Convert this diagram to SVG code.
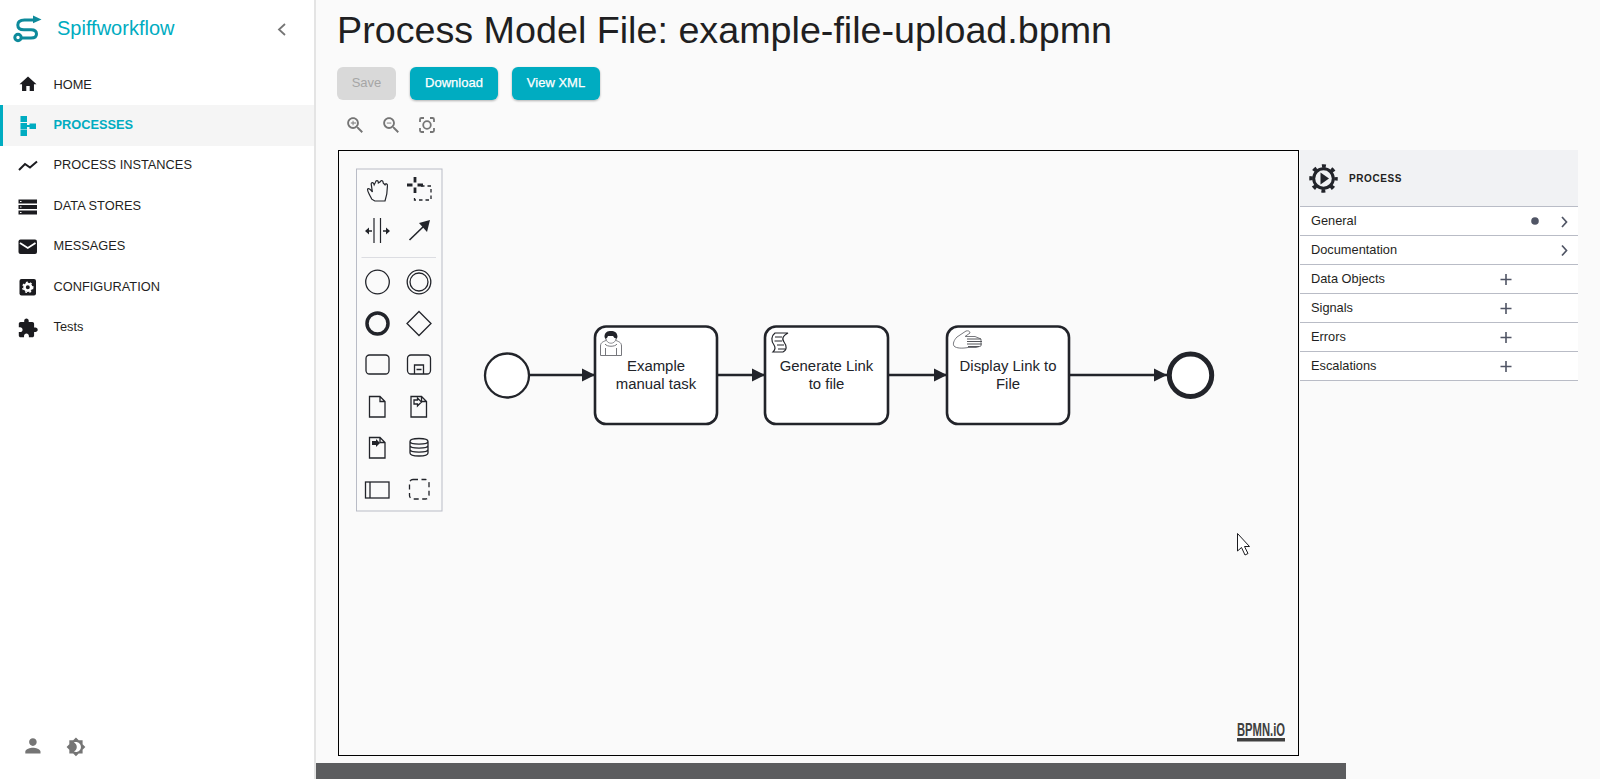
<svg xmlns="http://www.w3.org/2000/svg" width="1600" height="779" viewBox="0 0 1600 779">
<style>
text{font-family:"Liberation Sans",Arial,sans-serif;fill:#1f1f22}
.m{font-size:12.8px}
.r{font-size:12.8px}
.t{font-size:14.9px;text-anchor:middle;fill:#22242a}
.task{fill:#fff;stroke:#22242a;stroke-width:2.6}
.flow{fill:none;stroke:#22242a;stroke-width:2.6}
.ln{stroke:#b9bcc6;stroke-width:1.2}
.pal{fill:none;stroke:#22242a;stroke-width:1.3}
.btn{fill:#00acc1}
.bt{font-size:13px;fill:#fff;text-anchor:middle;stroke:#fff;stroke-width:.25}
.ic{fill:#1b1b1f}
.g{fill:#757575}
.pl{stroke:#505565;stroke-width:1.6;fill:none}
.chev{fill:none;stroke:#505565;stroke-width:1.7}
</style>
<defs>
<marker id="a" markerUnits="userSpaceOnUse" markerWidth="14" markerHeight="14" refX="13" refY="7" orient="auto"><path d="M0 .5L13 7L0 13.500z" fill="#22242a"/></marker>
<filter id="s" x="-10%" y="-10%" width="120%" height="130%"><feDropShadow dx="0" dy="1" stdDeviation="1.2" flood-color="#000" flood-opacity=".3"/></filter>
</defs>
<rect width="1600" height="779" fill="#fafafa"/>

<g id="sidebar">
<rect width="314" height="779" fill="#fff"/>
<rect x="314" width="2" height="779" fill="#e4e4e4"/>
<g id="logo" fill="none" stroke="#0d8a9b" stroke-width="3">
<path d="M35 20H24.500C20 20 17.800 22 17.800 25C17.800 28 20 29.800 24 29.800H31C34.500 29.800 36.500 31.500 36.500 34C36.500 36.800 34.500 38 31 38H21"/>
<circle cx="18" cy="37.500" r="3.200"/>
<path d="M33 15.500L41.500 19.500L33 23.300z" fill="#0d8a9b" stroke="none"/>
</g>
<text x="57" y="35" font-size="20" style="fill:#00acc1">Spiffworkflow</text>
<path d="M285 24L279 29.500L285 35" fill="none" stroke="#757575" stroke-width="1.800"/>

<rect y="105" width="314" height="41" fill="#f5f5f5"/>
<rect y="105" width="3" height="41" fill="#00acc1"/>
<path class="ic" transform="translate(17.800 74) scale(.85)" d="M10 20v-6h4v6h5v-8h3L12 3 2 12h3v8z"/>
<text class="m" x="53.500" y="88.500">HOME</text>
<g fill="#00acc1"><rect x="20.500" y="116" width="6.500" height="6"/><rect x="20.500" y="123" width="6.500" height="6.500"/><rect x="20.500" y="130" width="6.500" height="6"/><rect x="29.500" y="123.500" width="6.500" height="5.500"/><rect x="26" y="125" width="4" height="2"/></g>
<text class="m" x="53.500" y="128.500" font-weight="700" style="fill:#00acc1">PROCESSES</text>
<polyline points="19,170 25,164 30,167.500 37,161.500" fill="none" stroke="#1b1b1f" stroke-width="2"/>
<text class="m" x="53.500" y="168.500">PROCESS INSTANCES</text>
<g class="ic"><rect x="18.500" y="199.500" width="18.500" height="4"/><rect x="18.500" y="205" width="18.500" height="4"/><rect x="18.500" y="210.500" width="18.500" height="4"/></g>
<g fill="#fff"><rect x="20" y="201" width="1.500" height="1"/><rect x="20" y="206.500" width="1.500" height="1"/><rect x="20" y="212" width="1.500" height="1"/></g>
<text class="m" x="53.500" y="209.500">DATA STORES</text>
<rect class="ic" x="18.500" y="239.500" width="18.500" height="14.500" rx="2"/>
<path d="M20 243L27.800 248L35.500 243" fill="none" stroke="#fff" stroke-width="1.800"/>
<text class="m" x="53.500" y="249.500">MESSAGES</text>
<rect class="ic" x="19.500" y="279" width="16.500" height="16.500" rx="2"/>
<circle cx="27.800" cy="287.300" r="3.300" fill="none" stroke="#fff" stroke-width="2.600"/>
<circle cx="27.800" cy="287.300" r="5" fill="none" stroke="#fff" stroke-width="1.400" stroke-dasharray="2 2.200"/>
<text class="m" x="53.500" y="290.500">CONFIGURATION</text>
<path class="ic" transform="translate(17 317.500) scale(.9)" d="M20.500 11H19V7c0-1.100-.9-2-2-2h-4V3.500C13 2.120 11.880 1 10.500 1S8 2.120 8 3.500V5H4c-1.100 0-1.990.9-1.990 2v3.800H3.500c1.490 0 2.700 1.210 2.700 2.700s-1.210 2.700-2.700 2.700H2V20c0 1.100.9 2 2 2h3.800v-1.500c0-1.490 1.210-2.700 2.700-2.700 1.490 0 2.700 1.210 2.700 2.700V22H17c1.100 0 2-.9 2-2v-4h1.500c1.380 0 2.500-1.120 2.500-2.500S21.880 11 20.500 11z"/>
<text class="m" x="53.500" y="331">Tests</text>
<path class="g" transform="translate(21.500 734.500) scale(.95)" d="M12 12c2.210 0 4-1.790 4-4s-1.790-4-4-4-4 1.790-4 4 1.790 4 4 4zm0 2c-2.670 0-8 1.340-8 4v2h16v-2c0-2.660-5.330-4-8-4z"/>
<path class="g" transform="translate(66 737) scale(.83)" d="M20 8.690V4h-4.690L12 .69 8.690 4H4v4.690L.69 12 4 15.310V20h4.690L12 23.310 15.310 20H20v-4.690L23.310 12 20 8.690zM12 18c-.89 0-1.740-.2-2.500-.55C11.560 16.500 13 14.420 13 12s-1.440-4.500-3.500-5.450C10.260 6.200 11.110 6 12 6c3.310 0 6 2.690 6 6s-2.690 6-6 6z" fill-rule="evenodd"/>
</g>

<g id="header">
<text x="337" y="43" font-size="37.700">Process Model File: example-file-upload.bpmn</text>
<rect x="337" y="67" width="59" height="33" rx="6" fill="#d9d9d9"/>
<text class="bt" x="366.500" y="87" style="fill:#a6a6a6;stroke:none">Save</text>
<rect class="btn" x="410" y="67" width="88" height="33" rx="6" filter="url(#s)"/>
<text class="bt" x="454" y="87">Download</text>
<rect class="btn" x="512" y="67" width="88" height="33" rx="6" filter="url(#s)"/>
<text class="bt" x="556" y="87">View XML</text>
<g transform="translate(344.500 114.500) scale(.9)"><path class="g" d="M15.500 14h-.79l-.28-.27C15.410 12.590 16 11.110 16 9.500 16 5.910 13.090 3 9.500 3S3 5.910 3 9.500 5.910 16 9.500 16c1.610 0 3.090-.59 4.230-1.570l.27.28v.79l5 4.990L20.490 19l-4.990-5zm-6 0C7.010 14 5 11.990 5 9.500S7.010 5 9.500 5 14 7.010 14 9.500 11.990 14 9.500 14z"/><path class="g" d="M12 10h-2v2H9v-2H7V9h2V7h1v2h3v1z"/></g>
<g transform="translate(380.500 114.500) scale(.9)"><path class="g" d="M15.500 14h-.79l-.28-.27C15.410 12.590 16 11.110 16 9.500 16 5.910 13.090 3 9.500 3S3 5.910 3 9.500 5.910 16 9.500 16c1.610 0 3.090-.59 4.230-1.570l.27.28v.79l5 4.990L20.490 19l-4.990-5zm-6 0C7.010 14 5 11.990 5 9.500S7.010 5 9.500 5 14 7.010 14 9.500 11.990 14 9.500 14z"/><path class="g" d="M7 9h5v1H7z"/></g>
<g id="fit"><path d="M420 122V119.500Q420 118 421.500 118H424M430 118H432.500Q434 118 434 119.500V122M434 128V130.500Q434 132 432.500 132H430M424 132H421.500Q420 132 420 130.500V128" fill="none" stroke="#757575" stroke-width="1.800"/><circle cx="427" cy="125" r="3.800" fill="none" stroke="#757575" stroke-width="1.800"/></g>
</g>

<rect id="canvas" x="338.500" y="150.500" width="960" height="605" fill="#fafafa" stroke="#000" stroke-width="1"/>

<g id="palette">
<rect x="356.500" y="169" width="85.500" height="342" fill="#fafafa" stroke="#b9bcc6" stroke-width="1"/>
<path class="pal" transform="translate(-73.400 -36) scale(1.2)" d="M371 196C369 192 367 189 367.500 187.500C368 186.500 370 187.500 371.500 190L370.500 183.500C370.500 181.500 372.500 182 373 184L374 182C374.500 180 376.500 180 376.500 182.500L378 181.500C378.500 180 380.500 180 380.500 182.500L382 184C382.500 182.500 384.500 183 384 185.500C384 190 383.500 193 382 197.500H373.500z" style="stroke-width:1"/>
<g id="lasso"><path d="M407 185H412.500M417.500 185H423M415 177V182.500M415 187.500V193" stroke="#22242a" stroke-width="2.800" fill="none"/><path d="M421 186H431V200H414.500V195" fill="none" stroke="#22242a" stroke-width="1.300" stroke-dasharray="3.500 3"/></g>
<g id="space"><path d="M374 218V243M380.500 218V243" stroke="#22242a" stroke-width="1.200"/><path d="M365 231L369 227.500V234.500zM390 231L386 227.500V234.500z" fill="#22242a"/><path d="M368 231H372M383 231H387" stroke="#22242a" stroke-width="1.600"/></g>
<g id="connect"><path d="M409.500 240L424 226" stroke="#22242a" stroke-width="1.600"/><path d="M430 220L427 232L419 223z" fill="#22242a"/></g>
<line x1="361.500" y1="257.500" x2="436" y2="257.500" stroke="#dcdde2"/>
<circle class="pal" cx="377.500" cy="282" r="11.800"/>
<circle class="pal" cx="419" cy="282" r="11.800"/><circle class="pal" cx="419" cy="282" r="9"/>
<circle cx="377.500" cy="323.500" r="10.500" fill="none" stroke="#22242a" stroke-width="3.500"/>
<path class="pal" d="M419 311.500L431 323.500L419 335.500L407 323.500z"/>
<rect class="pal" x="366" y="355" width="23" height="19" rx="3.500"/>
<rect class="pal" x="407.500" y="355" width="23" height="19" rx="3.500"/>
<path class="pal" d="M414.500 374V365H423.500V374M416.500 369.500H421.500"/>
<path class="pal" d="M369.500 396.500H380L385 401.500V417H369.500zM380 396.500V401.500H385"/>
<path class="pal" d="M411 396.500H421.500L426.500 401.500V417H411zM421.500 396.500V401.500H426.500"/>
<path class="pal" d="M414 400H417.500V398L421.500 402L417.500 406V404H414z" stroke-width=".9"/>
<path class="pal" d="M369.500 437.500H380L385 442.500V458H369.500zM380 437.500V442.500H385"/>
<path d="M372 441H376V439L380 443L376 447V445H372z" fill="#22242a"/>
<path class="pal" d="M410 441.500C410 437.500 428 437.500 428 441.500V453C428 457 410 457 410 453zM410 441.500C410 445 428 445 428 441.500M410 445.500C410 449 428 449 428 445.500M410 449.500C410 453 428 453 428 449.500"/>
<rect class="pal" x="365.500" y="482" width="23.500" height="16"/><line x1="370" y1="482" x2="370" y2="498" class="pal"/>
<rect class="pal" x="409.500" y="479.500" width="19.500" height="19.500" rx="3.500" stroke-dasharray="5 3.500"/>
</g>

<g id="connectors">
<path class="flow" marker-end="url(#a)" d="M529 375H595"/>
<path class="flow" marker-end="url(#a)" d="M717 375H765"/>
<path class="flow" marker-end="url(#a)" d="M888 375H947"/>
<path class="flow" marker-end="url(#a)" d="M1069 375H1167"/>
</g>

<g id="start"><circle cx="507" cy="375.500" r="22" fill="#fff" stroke="#22242a" stroke-width="2.300"/></g>
<g id="task1">
<rect class="task" x="595" y="326.500" width="122" height="97.500" rx="11"/>
<path d="M600.500 355.500V346C600.500 342 604 341.500 607 340M621.500 355.500V346C621.500 342 618 341.500 615 340M600.500 355.500H621.500M605.500 355V348M616.500 355V348M605 344C607 347 615 347 617 344" fill="none" stroke="#77787d" stroke-width="1"/>
<path d="M604.500 337C604.500 332 607.500 331 611 331C614.500 331 617.500 332.500 617.500 337L616 340L613 336H608L606 340z" fill="#22242a"/>
<path d="M606 338C606 345 616 345 616 338" fill="#fff" stroke="#77787d" stroke-width=".8"/>
<text class="t" x="656" y="371">Example</text><text class="t" x="656" y="389">manual task</text>
</g>
<g id="task2">
<rect class="task" x="765" y="326.500" width="123" height="97.500" rx="11"/>
<path d="M775 333H788C784 335 781 338 784 342C787 346 787 350 783 352H773C775 350 776 348 774 345C771 341 771 336 775 333zM775 337H782M774.500 341H782M777 345H784M778 349H785" fill="none" stroke="#22242a" stroke-width="1.200"/>
<text class="t" x="826.500" y="371">Generate Link</text><text class="t" x="826.500" y="389">to file</text>
</g>
<g id="task3">
<rect class="task" x="947" y="326.500" width="122" height="97.500" rx="11"/>
<path d="M966 331L957 337C954 340 952.500 344 954 346C956 348.500 963 348.500 968 347.500H976L981 346V339L975 336.500H965L970 333C970 331 968 330.500 966 331z" fill="none" stroke="#77787d" stroke-width="1"/>
<path d="M967 339H981M967 341.500H982M967 344H982M968 346.500H979" stroke="#55565b" stroke-width="1"/>
<text class="t" x="1008" y="371">Display Link to</text><text class="t" x="1008" y="389">File</text>
</g>
<g id="end"><circle cx="1190.500" cy="375.300" r="21.200" fill="#fff" stroke="#22242a" stroke-width="5"/></g>

<g id="watermark">
<text x="1237" y="736" font-size="18" font-weight="700" textLength="48" lengthAdjust="spacingAndGlyphs" style="fill:#404040">BPMN.iO</text>
<rect x="1237" y="738" width="48" height="3.500" fill="#404040"/>
</g>
<path id="cursor" d="M1237.500 533.500V551L1241.500 547.500L1245 555L1248 553.500L1244.500 546.500H1249.500z" fill="#fff" stroke="#1b1b1f" stroke-width="1"/>

<g id="properties">
<rect x="1300" y="150" width="278" height="231" fill="#fff"/>
<rect x="1300" y="150" width="278" height="56" fill="#f1f2f4"/>
<g id="process-icon" fill="none" stroke="#22242a"><circle cx="1323.500" cy="178.500" r="9.800" stroke-width="3"/><circle cx="1323.500" cy="178.500" r="12.500" stroke-width="3.500" stroke-dasharray="4 5.820" stroke-dashoffset="2"/><path d="M1320.500 172.500L1329 178.500L1320.500 184.500z" fill="#22242a" stroke="none"/></g>
<text x="1349" y="181.500" font-size="10" font-weight="700" letter-spacing=".6">PROCESS</text>
<g class="ln"><line x1="1300" y1="206.500" x2="1578" y2="206.500"/><line x1="1300" y1="235.500" x2="1578" y2="235.500"/><line x1="1300" y1="264.500" x2="1578" y2="264.500"/><line x1="1300" y1="293.500" x2="1578" y2="293.500"/><line x1="1300" y1="322.500" x2="1578" y2="322.500"/><line x1="1300" y1="351.500" x2="1578" y2="351.500"/><line x1="1300" y1="380.500" x2="1578" y2="380.500"/></g>
<text class="r" x="1311" y="225">General</text>
<text class="r" x="1311" y="254">Documentation</text>
<text class="r" x="1311" y="283">Data Objects</text>
<text class="r" x="1311" y="312">Signals</text>
<text class="r" x="1311" y="341">Errors</text>
<text class="r" x="1311" y="370">Escalations</text>
<circle cx="1535" cy="221" r="3.800" fill="#505565"/>
<path class="chev" d="M1562 217L1566.500 222L1562 227M1562 245.500L1566.500 250.500L1562 255.500"/>
<path class="pl" d="M1506 274V285M1500.500 279.500H1511.500M1506 303V314M1500.500 308.500H1511.500M1506 332V343M1500.500 337.500H1511.500M1506 361V372M1500.500 366.500H1511.500"/>
</g>
<rect id="bottom-bar" x="316" y="763" width="1030" height="16" fill="#5c5d5f"/>
</svg>
